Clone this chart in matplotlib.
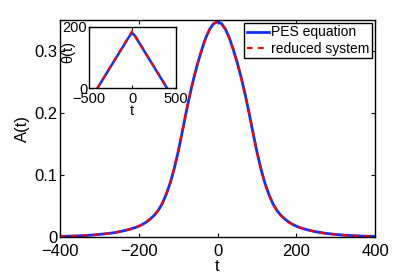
import matplotlib
matplotlib.use("Agg")
import matplotlib.pyplot as plt
import numpy as np

plt.rcParams['font.family'] = ['Liberation Sans', 'DejaVu Sans']

# main curve A(t) (symmetric about t=0)
t_half = [0, 10, 20, 30, 40, 50, 60, 70, 80, 90, 100, 110, 120, 130, 140, 150,
          160, 170, 180, 190, 200, 210, 220, 230, 240, 250, 260, 270, 280, 290,
          300, 310, 320, 330, 340, 350, 360, 370, 380, 390, 400]
A_half = [0.347, 0.344, 0.335, 0.321, 0.302, 0.281, 0.257, 0.230, 0.200, 0.168,
          0.137, 0.110, 0.087, 0.069, 0.054, 0.043, 0.035, 0.029, 0.024, 0.020,
          0.017, 0.0145, 0.0125, 0.0108, 0.0093, 0.0080, 0.0068, 0.0058, 0.0050,
          0.0043, 0.0037, 0.0031, 0.0026, 0.0022, 0.0018, 0.0015, 0.0012, 0.0010,
          0.0008, 0.0006, 0.0005]
t_main = [-v for v in t_half[:0:-1]] + t_half
A_pes = A_half[:0:-1] + A_half
A_red = A_half[:0:-1] + A_half

# inset theta(t)
t_theta_pes = [-400, -300, -200, -100, -50, -25, 0, 25, 50, 100, 200, 300, 400]
theta_pes = [0, 46, 92, 138, 161, 172, 179, 172, 161, 138, 92, 46, 0]
t_theta_red = [-400, 0, 400]
theta_red = [0, 186, 0]

fig = plt.figure(figsize=(4.14, 2.77), dpi=100)
ax = fig.add_axes([0.145, 0.1455, 0.761, 0.7825])
ax.plot(t_main, A_pes, color='#1030ff', lw=2.0, label='PES equation')
ax.plot(t_main, A_red, color='#ff0000', lw=1.6, ls=(0, (2.5, 2.5)), label='reduced system')
ax.set_xlim(-400, 400)
ax.set_ylim(0, 0.35)
ax.set_xticks([-400, -200, 0, 200, 400])
ax.set_xticklabels(['\u2212400', '\u2212200', '0', '200', '400'])
ax.set_yticks([0, 0.1, 0.2, 0.3])
ax.set_yticklabels(['0', '0.1', '0.2', '0.3'])
ax.tick_params(axis='both', direction='in', top=True, right=True, labelsize=12, length=3)
ax.tick_params(axis='x', pad=5)
ax.tick_params(axis='y', pad=2)
ax.set_xlabel('t', fontsize=12, labelpad=0)
ax.set_ylabel('A(t)', fontsize=12, labelpad=3)
for s in ax.spines.values():
    s.set_linewidth(1.0)
leg = ax.legend(loc='upper right', fontsize=10, frameon=True, fancybox=False,
                handlelength=1.6, handletextpad=0.15, borderpad=0.2,
                labelspacing=0.15, borderaxespad=0.2)
leg.get_frame().set_edgecolor('black')
leg.get_frame().set_linewidth(1.0)
leg.get_frame().set_alpha(1.0)

ins = fig.add_axes([0.214, 0.681, 0.211, 0.223])
ins.plot(t_theta_pes, theta_pes, color='#1030ff', lw=1.8)
ins.plot(t_theta_red, theta_red, color='#ff0000', lw=1.5, ls=(0, (2.5, 2.5)))
ins.set_xlim(-500, 500)
ins.set_ylim(0, 200)
ins.set_xticks([-500, 0, 500])
ins.set_xticklabels(['\u2212500', '0', '500'])
ins.set_yticks([0, 200])
ins.tick_params(direction='in', top=True, right=True, labelsize=10.5, length=2)
ins.tick_params(axis='x', pad=2.5)
ins.tick_params(axis='y', pad=1)
ins.set_xlabel('t', fontsize=10.5, labelpad=-1)
ins.set_ylabel('\u03b8(t)', fontsize=10.5)
ins.yaxis.set_label_coords(-0.155, 0.59)
for s in ins.spines.values():
    s.set_linewidth(1.0)

fig.savefig('out.png', dpi=100)
